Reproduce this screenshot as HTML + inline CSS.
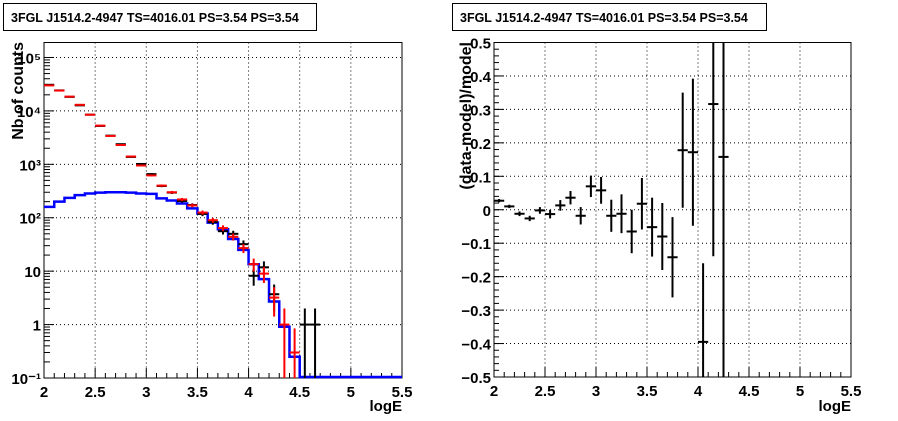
<!DOCTYPE html>
<html><head><meta charset="utf-8"><style>
body{margin:0;background:#fff}
svg{display:block;font-family:"Liberation Sans",sans-serif;font-weight:bold}
</style></head><body>
<svg id="c" width="898" height="421" viewBox="0 0 898 421">
<rect x="0" y="0" width="898" height="421" fill="#fff"/>
<g><rect x="3.5" y="3.5" width="313" height="27" fill="#fff" stroke="#000"/>
<text x="11" y="22" font-size="12.5">3FGL J1514.2-4947 TS=4016.01 PS=3.54 PS=3.54</text></g>
<g><rect x="452.5" y="3.5" width="314" height="27" fill="#fff" stroke="#000"/>
<text x="460" y="22" font-size="12.5">3FGL J1514.2-4947 TS=4016.01 PS=3.54 PS=3.54</text></g>
<g id="L"></g>
<g id="R"></g>
</svg>
<script>
const binLo = [2.0,2.1,2.2,2.3,2.4,2.5,2.6,2.7,2.8,2.9,3.0,3.1,3.2,3.3,3.4,3.5,3.6,3.7,3.8,3.9,4.0,4.1,4.2,4.3,4.4];
const modelSource = [160,200,235,265,285,295,300,300,295,285,280,230,210,185,150,120,81,61,40,25,13.5,7.1,2.7,0.91,0.25];
const modelTotal = [30000,24000,18500,13000,8500,5300,3400,2300,1400,950,620,400,300,220,170,125,90,64,44,27,13.5,9,3.2,1,0.3];
const dataBins = [2.05,2.15,2.25,2.35,2.45,2.55,2.65,2.75,2.85,2.95,3.05,3.15,3.25,3.35,3.45,3.55,3.65,3.75,3.85,3.95,4.05,4.15,4.25,4.55,4.65];
const dataCounts = [30800,24200,18300,12700,8500,5230,3440,2380,1375,1015,655,393,296,206,173,118,83,56,50,32,8.2,11.8,3.7,1,1];
const resCenters = [2.05,2.15,2.25,2.35,2.45,2.55,2.65,2.75,2.85,2.95,3.05,3.15,3.25,3.35,3.45,3.55,3.65,3.75,3.85,3.95,4.05,4.15,4.25];
const resValues = [0.027,0.01,-0.012,-0.026,-0.002,-0.013,0.013,0.036,-0.018,0.07,0.058,-0.018,-0.012,-0.065,0.018,-0.052,-0.08,-0.142,0.178,0.172,-0.395,0.316,0.158];
const resErrors = [0.005,0.005,0.007,0.008,0.01,0.013,0.016,0.02,0.026,0.032,0.04,0.048,0.058,0.065,0.077,0.088,0.1,0.12,0.172,0.22,0.235,0.455,0.7];
const xTicks = ["2","2.5","3","3.5","4","4.5","5","5.5"];
const logTicks = ["10\u207B\u00B9","1","10","10\u00B2","10\u00B3","10\u2074","10\u2075"];
const resTicks = ["\u22120.5","\u22120.4","\u22120.3","\u22120.2","\u22120.1","0","0.1","0.2","0.3","0.4","0.5"];

const NS="http://www.w3.org/2000/svg";
function mk(p,t,a){const e=document.createElementNS(NS,t);for(const k in a)e.setAttribute(k,a[k]);p.appendChild(e);return e;}

const L=document.getElementById('L');
const lx0=44,lx1=402,ly0=42.5,ly1=378;
const lsx=v=>lx0+(v-2)/3.5*(lx1-lx0);
const lmin=-1,lmax=5+15/53.5;
const lsy=v=>{const l=Math.log10(Math.max(v,1e-3));return ly1-(l-lmin)/(lmax-lmin)*(ly1-ly0);};
const clampY=y=>Math.min(ly1,Math.max(ly0,y));
let f=mk(L,'rect',{x:lx0,y:ly0,width:lx1-lx0,height:ly1-ly0,fill:'none',stroke:'#000','stroke-width':1});

xTicks.forEach((t,i)=>{const v=+t,x=lsx(v);
  if(i>0&&i<xTicks.length-1){let gl=mk(L,'line',{x1:x,x2:x,y1:ly0,y2:ly1,stroke:'#000','stroke-dasharray':'1 3'});
  }
  let tx=mk(L,'text',{x:x,y:ly1+19,'font-size':15,'text-anchor':'middle'});tx.textContent=t;
  
});
for(let k=0;k<=35;k++){const x=lsx(2+k*0.1);mk(L,'line',{x1:x,x2:x,y1:ly1,y2:ly1-(k%5==0?10:5),stroke:'#000'});}
logTicks.forEach((t,i)=>{const v=Math.pow(10,i-1),y=lsy(v);
  if(i>0){let gl=mk(L,'line',{x1:lx0,x2:lx1,y1:y,y2:y,stroke:'#000','stroke-dasharray':'1 3'});
  }
  mk(L,'line',{x1:lx0,x2:lx0+10,y1:y,y2:y,stroke:'#000'});
  for(let m=2;m<=9;m++){const yy=lsy(v*m);if(yy>ly0)mk(L,'line',{x1:lx0,x2:lx0+6,y1:yy,y2:yy,stroke:'#000'});}
  let tx=mk(L,'text',{x:lx0-3,y:y+6,'font-size':15,'text-anchor':'end'});tx.textContent=t;
  
});
let d='M'+lsx(2)+' '+lsy(modelSource[0]);
modelSource.forEach((v,i)=>{d+=' L'+lsx(binLo[i])+' '+clampY(lsy(v))+' L'+lsx(binLo[i]+0.1)+' '+clampY(lsy(v));});
d+=' L'+lsx(4.5)+' '+(ly1-1)+' L'+lx1+' '+(ly1-1);
let bl=mk(L,'path',{d:d,fill:'none',stroke:'#0000ff','stroke-width':2.5});

// black data (drawn first)
dataCounts.forEach((v,i)=>{const c=dataBins[i],e=Math.sqrt(v);const g=mk(L,'g',{stroke:'#000','stroke-width':2});
  
  mk(g,'line',{x1:lsx(c-0.05),x2:lsx(c+0.05),y1:lsy(v),y2:lsy(v)});
  mk(g,'line',{x1:lsx(c),x2:lsx(c),y1:clampY(lsy(v+e)),y2:clampY(v-e>0?lsy(v-e):ly1)});});
// red total on top
modelTotal.forEach((v,i)=>{const c=binLo[i]+0.05,e=Math.sqrt(v);const g=mk(L,'g',{stroke:'#ff0000','stroke-width':2});
  
  mk(g,'line',{x1:lsx(c-0.05),x2:lsx(c+0.05),y1:lsy(v),y2:lsy(v)});
  mk(g,'line',{x1:lsx(c),x2:lsx(c),y1:clampY(lsy(v+e)),y2:clampY(v-e>0?lsy(v-e):ly1)});});
let xt=mk(L,'text',{x:lx1,y:411,'font-size':15,'text-anchor':'end'});xt.textContent='logE';

let yt=mk(L,'text',{x:0,y:0,'font-size':16,'text-anchor':'end',transform:'translate(23,42) rotate(-90)'});yt.textContent='Nb of counts';


const R=document.getElementById('R');
const rx0=494,rx1=851,ry0=42.5,ry1=377;
const rsx=v=>rx0+(v-2)/3.5*(rx1-rx0);
const rsy=v=>ry1-(v+0.5)*(ry1-ry0);
const rc=y=>Math.min(ry1,Math.max(ry0,y));
f=mk(R,'rect',{x:rx0,y:ry0,width:rx1-rx0,height:ry1-ry0,fill:'none',stroke:'#000'});

xTicks.forEach((t,i)=>{const x=rsx(+t);
  if(i>0&&i<xTicks.length-1){let gl=mk(R,'line',{x1:x,x2:x,y1:ry0,y2:ry1,stroke:'#000','stroke-dasharray':'1 3'});
  }
  let tx=mk(R,'text',{x:x,y:ry1+19,'font-size':15,'text-anchor':'middle'});tx.textContent=t;
  });
for(let k=0;k<=35;k++){const x=rsx(2+k*0.1);mk(R,'line',{x1:x,x2:x,y1:ry1,y2:ry1-(k%5==0?10:5),stroke:'#000'});}
resTicks.forEach((t,i)=>{const v=-0.5+i*0.1,y=rsy(v);
  if(i>0&&i<resTicks.length-1){let gl=mk(R,'line',{x1:rx0,x2:rx1,y1:y,y2:y,stroke:'#000','stroke-dasharray':'1 3'});
  }
  mk(R,'line',{x1:rx0,x2:rx0+10,y1:y,y2:y,stroke:'#000'});
  let tx=mk(R,'text',{x:rx0-3,y:y+6,'font-size':15,'text-anchor':'end'});tx.textContent=t;
  });
for(let k=0;k<=50;k++){const y=rsy(-0.5+k*0.02);mk(R,'line',{x1:rx0,x2:rx0+5,y1:y,y2:y,stroke:'#000'});}
resValues.forEach((v,i)=>{const c=resCenters[i],e=resErrors[i];const g=mk(R,'g',{stroke:'#000','stroke-width':2});
  
  mk(g,'line',{x1:rsx(c-0.05),x2:rsx(c+0.05),y1:rsy(v),y2:rsy(v)});
  mk(g,'line',{x1:rsx(c),x2:rsx(c),y1:rc(rsy(v+e)),y2:rc(rsy(v-e))});});
xt=mk(R,'text',{x:rx1,y:411,'font-size':15,'text-anchor':'end'});xt.textContent='logE';

yt=mk(R,'text',{x:0,y:0,'font-size':16,'text-anchor':'end',transform:'translate(471,42) rotate(-90)'});yt.textContent='(data-model)/model';

</script>
</body></html>
